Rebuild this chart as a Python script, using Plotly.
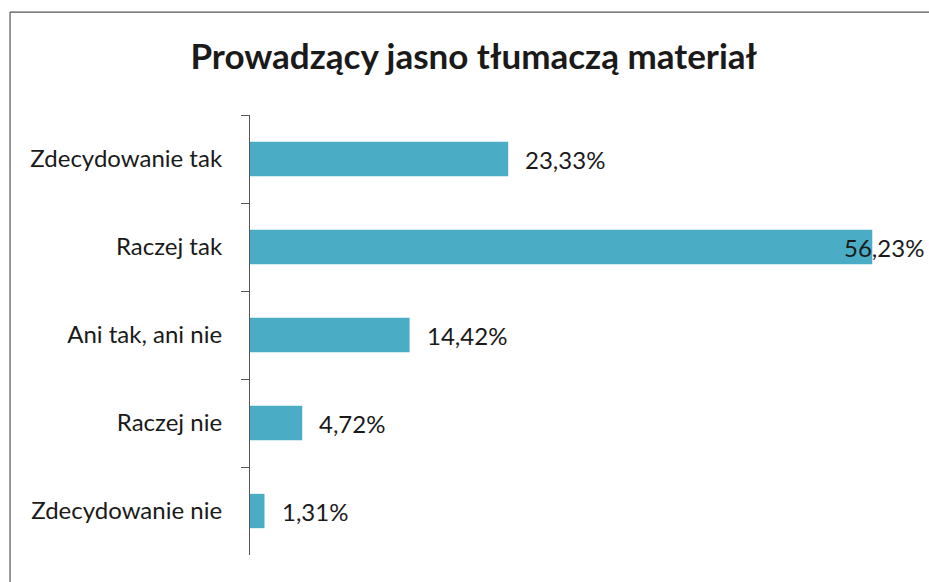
import plotly.graph_objects as go

# Survey answers, top to bottom as in the chart
CATEGORIES = ["Zdecydowanie tak", "Raczej tak", "Ani tak, ani nie", "Raczej nie", "Zdecydowanie nie"]
PERCENT = [23.33, 56.23, 14.42, 4.72, 1.31]
TITLE = "Prowadzący jasno tłumaczą materiał"

BAR_COLOR = "#4BACC6"
FONT = "Lato, 'Open Sans', sans-serif"

labels = [f"{v:.2f}%".replace(".", ",") for v in PERCENT]

fig = go.Figure()
fig.add_bar(
    x=PERCENT, y=CATEGORIES, orientation="h",
    marker=dict(color=BAR_COLOR, line=dict(width=0)),
    hoverinfo="skip",
)

# value labels next to bars; the longest one gets pulled back so it stays on the page
peak = max(PERCENT)
for cat, v, txt in zip(CATEGORIES, PERCENT, labels):
    fig.add_annotation(
        x=v, y=cat, text=txt, showarrow=False,
        xanchor="left", yanchor="middle",
        xshift=-30 if v == peak else 15,
        font=dict(family=FONT, size=24, color="#1a1a1a"),
    )

# chart frame: only its left and top edges are inside the picture
frame = dict(color="#555", width=1.2)
fig.add_shape(type="line", xref="paper", yref="paper",
              x0=-0.3614, x1=-0.3614, y0=-0.2, y1=1.234, line=frame, layer="below")
fig.add_shape(type="line", xref="paper", yref="paper",
              x0=-0.3614, x1=1.2, y0=1.234, y1=1.234, line=frame, layer="below")

fig.update_layout(
    width=929, height=582,
    paper_bgcolor="white", plot_bgcolor="white",
    margin=dict(l=250, r=15, t=115, b=27),
    bargap=0.61,
    showlegend=False,
    title=dict(
        text=f"<b>{TITLE}</b>", x=0.51, xanchor="center", y=0.902, yanchor="middle",
        font=dict(family=FONT, size=35, color="#1a1a1a"),
    ),
    xaxis=dict(
        range=[0, 60], showticklabels=False, showgrid=False,
        zeroline=False, showline=False, ticks="",
    ),
    yaxis=dict(
        autorange="reversed", showgrid=False, zeroline=False,
        showline=True, linecolor="#555", linewidth=1.2,
        ticks="outside", tickson="boundaries", ticklen=8, tickcolor="#555",
        ticklabelstandoff=22,
        tickfont=dict(family=FONT, size=24, color="#1a1a1a"),
    ),
)

# drop the browser's default body margin so the figure fills the window exactly
fig.write_html(
    "out.html",
    config={"displayModeBar": False},
    post_script="document.body.style.margin='0';document.documentElement.style.overflow='hidden';",
)
